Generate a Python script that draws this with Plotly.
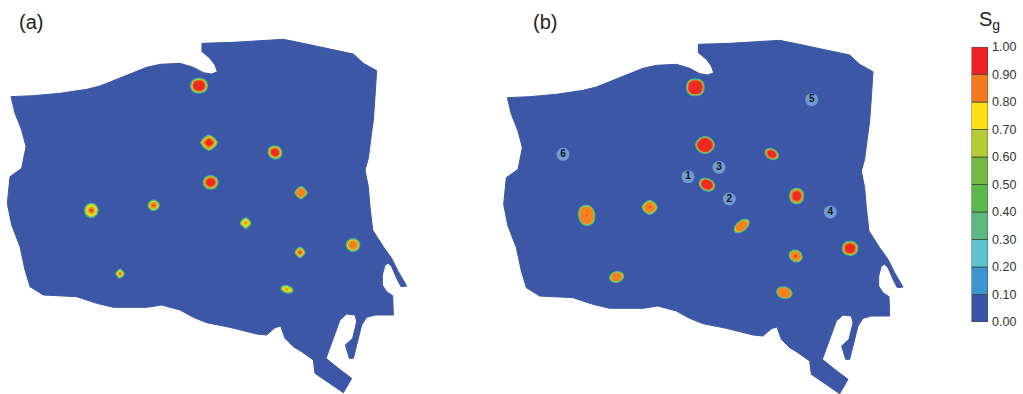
import numpy as np
import plotly.graph_objects as go

W, H = 1023, 394

# Reservoir outline, in map units
outline_x = [33,100,180,260,300,340,400,440,480,540,580,610,635,652,645,630,606,606,700,780,850,900,950,1010,1060,1090,1130,1125,1120,1112,1105,1095,1105,1110,1118,1150,1175,1195,1220,1203,1190,1175,1165,1155,1147,1147,1160,1178,1180,1125,1100,1085,1072,1060,1048,1036,1058,1070,1065,1040,1020,1000,978,1015,1055,1030,990,945,940,905,880,855,842,825,800,770,690,620,580,540,485,440,340,290,230,190,130,90,75,60,35,22,30,65,78,65,45,33]
outline_y = [200,197,190,178,168,152,128,112,103,100,112,128,132,125,105,85,65,40,37,33,28,38,48,60,72,100,122,200,270,330,385,420,470,530,600,650,685,725,768,770,745,710,700,705,735,765,785,797,855,855,862,885,935,985,985,945,925,875,855,852,870,925,985,1015,1045,1088,1060,1030,990,965,950,925,888,893,915,912,892,878,862,840,825,832,832,820,800,798,795,770,720,650,585,520,440,415,350,300,250,200]

# Panel (a) gas saturation plumes, map units
a_x = [597,627,825,632,903,274,461,737,900,1059,360,861]
a_y = [167,338,367,457,488,541,526,579,667,645,731,778]
a_width = [54,54,46,48,42,44,38,36,34,44,30,40]
a_height = [48,50,42,44,42,46,36,36,36,42,32,26]
a_angle = [0,0,30,0,0,0,0,0,0,0,0,15]
a_round = [2.2,1.4,2,2,1.3,2,1.7,1.4,1.4,2,1.3,2]
a_orange = [.76,.70,.72,.76,.72,.45,.55,.30,.55,.66,.40,.25]
a_red = [.66,.45,.55,.58,0,.18,.20,0,.20,0,.15,0]

# Panel (b) gas saturation plumes, map units
b_x = [597,626,826,632,901,271,460,736,898,1061,361,864]
b_y = [169,342,369,461,495,553,529,585,675,652,738,785]
b_width = [56,60,46,52,46,52,50,56,44,50,46,50]
b_height = [54,54,34,40,50,64,46,34,38,46,36,38]
b_angle = [0,0,30,25,0,-10,0,-40,30,0,-15,15]
b_round = [2.4,1.8,2,2,2.2,2.2,1.5,2,2,2.2,2,2]
b_orange = [.84,.86,.78,.80,.78,.82,.74,.74,.72,.80,.72,.80]
b_red = [.76,.78,.62,.70,.58,.10,.15,0,.20,.62,0,0]

# Numbered wells in panel (b)
well_x = [575,699,668,1002,946,200]
well_y = [437,504,409,543,206,370]
well_labels = ["1","2","3","4","5","6"]

# Colour scale
levels = [0.0,0.1,0.2,0.3,0.4,0.5,0.6,0.7,0.8,0.9]
level_colors = ["#3a55a5","#3a95d2","#5cc3cf","#5db87f","#5cb84a","#74b944","#b5cc35","#fde014","#f47a20","#ed2224"]
tick_vals = [0.0,0.1,0.2,0.3,0.4,0.5,0.6,0.7,0.8,0.9,1.0]
tick_text = ["0.00","0.10","0.20","0.30","0.40","0.50","0.60","0.70","0.80","0.90","1.00"]

MAP_BLUE = "#3b57a5"
fig = go.Figure()


def blob(cx, cy, w, h, angle, p):
    """Closed superellipse around a plume centre, in map units."""
    t = np.linspace(0, 2 * np.pi, 49)
    u = np.sign(np.cos(t)) * np.abs(np.cos(t)) ** (2 / p) * w / 2
    v = np.sign(np.sin(t)) * np.abs(np.sin(t)) ** (2 / p) * h / 2
    a = np.radians(angle)
    return cx + u * np.cos(a) - v * np.sin(a), cy + u * np.sin(a) + v * np.cos(a)


def ring_trace(xa, ya, color, sizes, rows):
    xs, ys = [], []
    for (cx, cy, angle, p), (w, h) in zip(rows, sizes):
        if w <= 0 or h <= 0:
            continue
        bx, by = blob(cx, cy, w, h, angle, p)
        xs += list(bx) + [None]
        ys += list(by) + [None]
    fig.add_trace(go.Scatter(x=xs, y=ys, mode="lines", fill="toself", fillcolor=color,
                             line=dict(width=0, color=color), xaxis=xa, yaxis=ya,
                             hoverinfo="skip", showlegend=False))


def add_panel(xa, ya, x, y, w, h, ang, rnd, orange, red):
    fig.add_trace(go.Scatter(x=outline_x, y=outline_y, mode="lines", fill="toself",
                             fillcolor=MAP_BLUE, line=dict(color=MAP_BLUE, width=1),
                             xaxis=xa, yaxis=ya, hoverinfo="skip", showlegend=False))
    rows = list(zip(x, y, ang, rnd))
    ring_trace(xa, ya, "#3fb8c8", list(zip(w, h)), rows)
    ring_trace(xa, ya, "#52b85a", [(a - 3, b - 3) for a, b in zip(w, h)], rows)
    ring_trace(xa, ya, "#dcd91e", [(a - 8, b - 8) for a, b in zip(w, h)], rows)
    ring_trace(xa, ya, "#f58220", [(a * f, b * f) for a, b, f in zip(w, h, orange)], rows)
    ring_trace(xa, ya, "#ee2a22", [(a * f, b * f) for a, b, f in zip(w, h, red)], rows)


add_panel("x", "y", a_x, a_y, a_width, a_height, a_angle, a_round, a_orange, a_red)
add_panel("x2", "y2", b_x, b_y, b_width, b_height, b_angle, b_round, b_orange, b_red)

fig.add_trace(go.Scatter(x=well_x, y=well_y, mode="markers+text", text=well_labels,
                         textposition="middle center",
                         textfont=dict(family="Liberation Sans", size=10, color="#10131c", weight="bold"),
                         marker=dict(color="#6f9bd0", size=13, line=dict(width=0)),
                         xaxis="x2", yaxis="y2", hoverinfo="skip", showlegend=False))

fig.add_trace(go.Bar(x=["Sg"] * len(levels), y=[0.1] * len(levels), base=levels,
                     width=1, marker=dict(color=level_colors, line=dict(color="#3c4a3c", width=0.8)),
                     xaxis="x3", yaxis="y3", hoverinfo="skip", showlegend=False))

hidden = dict(visible=False, showgrid=False, zeroline=False, automargin=False)
map_y_dom = [0, 364 / H]
label_font = dict(family="Liberation Sans", size=20, color="#222222")
fig.update_layout(
    width=W, height=H, margin=dict(l=0, r=0, t=0, b=0, pad=0), autosize=False,
    paper_bgcolor="white", plot_bgcolor="rgba(0,0,0,0)",
    xaxis=dict(domain=[0, 420 / W], range=[0, 1260], **hidden),
    yaxis=dict(domain=map_y_dom, range=[1092, 0], anchor="x", **hidden),
    xaxis2=dict(domain=[500 / W, 920 / W], range=[11, 1271], **hidden),
    yaxis2=dict(domain=map_y_dom, range=[1089, -3], anchor="x2", **hidden),
    xaxis3=dict(domain=[971.5 / W, 988 / W], visible=False, showgrid=False, automargin=False),
    yaxis3=dict(domain=[1 - 322 / H, 1 - 47 / H], range=[0, 1], anchor="x3", side="right",
                tickmode="array", tickvals=tick_vals, ticktext=tick_text, ticks="", automargin=False,
                showgrid=False, zeroline=False, showline=False, ticklabelstandoff=3,
                tickfont=dict(family="Liberation Sans", size=12.5, color="#333333")),
    annotations=[
        dict(text="(a)", x=31 / W, y=1 - 22 / H, xref="paper", yref="paper", showarrow=False,
             xanchor="center", yanchor="middle", font=label_font),
        dict(text="(b)", x=545 / W, y=1 - 22 / H, xref="paper", yref="paper", showarrow=False,
             xanchor="center", yanchor="middle", font=label_font),
        dict(text="S<sub>g</sub>", x=989 / W, y=1 - 21 / H, xref="paper", yref="paper", showarrow=False,
             xanchor="center", yanchor="middle", font=label_font),
    ],
)

fig.write_html("out.html", config=dict(displayModeBar=False),
               post_script="document.body.style.margin='0';")
